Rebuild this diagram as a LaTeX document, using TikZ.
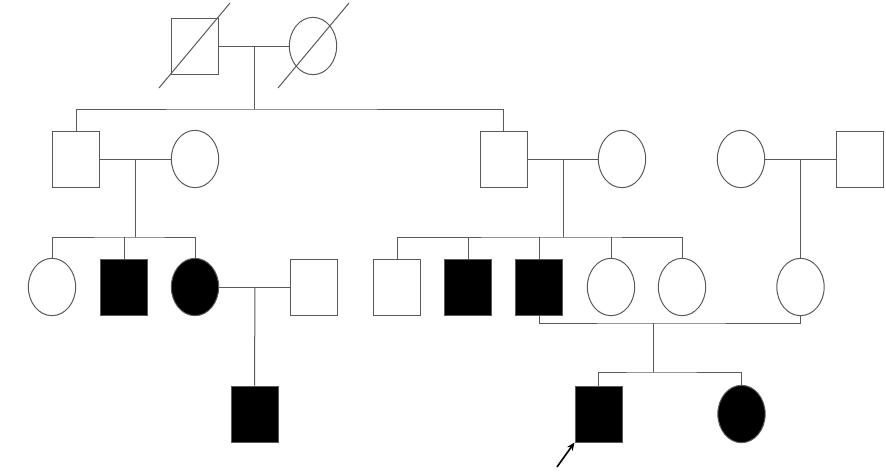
\documentclass[tikz,border=0pt]{standalone}
\usetikzlibrary{shapes.geometric,arrows.meta}
\definecolor{lc}{HTML}{5A5A5A}
\begin{document}
\begin{tikzpicture}[x=0.75pt,y=-0.75pt,
  line width=0.75pt,
  male/.style={rectangle,draw=lc,minimum width=35.25pt,minimum height=42pt,inner sep=0pt,fill=white},
  female/.style={ellipse,draw=lc,minimum width=35.5pt,minimum height=43pt,inner sep=0pt,fill=white},
  aff/.style={fill=black},
  link/.style={draw=lc,line width=0.75pt}]
\useasboundingbox (0,0) rectangle (886,472);
% generation I
\node[male] (m1) at (195,46) {};
\node[female] (f1) at (313,46) {};
% generation II
\node[male] (m2) at (76,159) {};
\node[female] (f2) at (195,159) {};
\node[male] (m3) at (503.5,159) {};
\node[female] (f3) at (622,159) {};
\node[female] (f4) at (741,159) {};
\node[male] (m4) at (860,159) {};
% generation III
\node[female] (f5) at (52,287) {};
\node[male,aff] (m5) at (124,287) {};
\node[female,aff] (f6) at (195,287) {};
\node[male] (m6) at (314,287) {};
\node[male] (m7) at (397,287) {};
\node[male,aff] (m8) at (468,287) {};
\node[male,aff] (m9) at (539,287) {};
\node[female] (f7) at (611,287) {};
\node[female] (f8) at (682,287) {};
\node[female] (f9) at (800.5,287) {};
% generation IV
\node[male,aff] (m10) at (254.5,414) {};
\node[male,aff] (m11) at (598.5,414) {};
\node[female,aff] (f10) at (741.5,414) {};
% deceased slashes
\draw[lc] (159,88) -- (230,3);
\draw[lc] (278,88) -- (349,3);
% junction coordinates
\coordinate (c1) at (254,46);
\coordinate (s1) at (254,109);
\coordinate (c2) at (135,159);
\coordinate (s2) at (135,237);
\coordinate (c3) at (563,159);
\coordinate (s3) at (563,237);
\coordinate (c5) at (255,287);
\coordinate (c6) at (653,323);
\coordinate (s6) at (653,372);
\coordinate (ar) at (557,467);
% couples
\draw[link] (m1.east) -- (f1.west);
\draw[link] (m2.east) -- (f2.west);
\draw[link] (m3.east) -- (f3.west);
\draw[link] (f4.east) -- (m4.west);
\draw[link] (f6.east) -- (m6.west);
\draw[link] (m9.south) |- (c6) -| (f9.south);
% descent
\draw[link] (c1) -- (s1);
\draw[link] (m2.north) |- (s1) -| (m3.north);
\draw[link] (c2) -- (s2);
\draw[link] (f5.north) |- (s2) -| (f6.north);
\draw[link] (m5.north) -- (m5.north |- s2);
\draw[link] (c3) -- (s3);
\draw[link] (m7.north) |- (s3) -| (f8.north);
\draw[link] (m8.north) -- (m8.north |- s3);
\draw[link] (m9.north) -- (m9.north |- s3);
\draw[link] (f7.north) -- (f7.north |- s3);
\draw[link] (f9.north |- f4.east) -- (f9.north);
\draw[link] (c5) -- (m10.north);
\draw[link] (c6) -- (s6);
\draw[link] (m11.north) |- (s6) -| (f10.north);
% proband arrow
\draw[black,line width=1.2pt,-{Stealth[length=6pt,width=5pt]}] (ar) -- (m11.south west);
\end{tikzpicture}
\end{document}
